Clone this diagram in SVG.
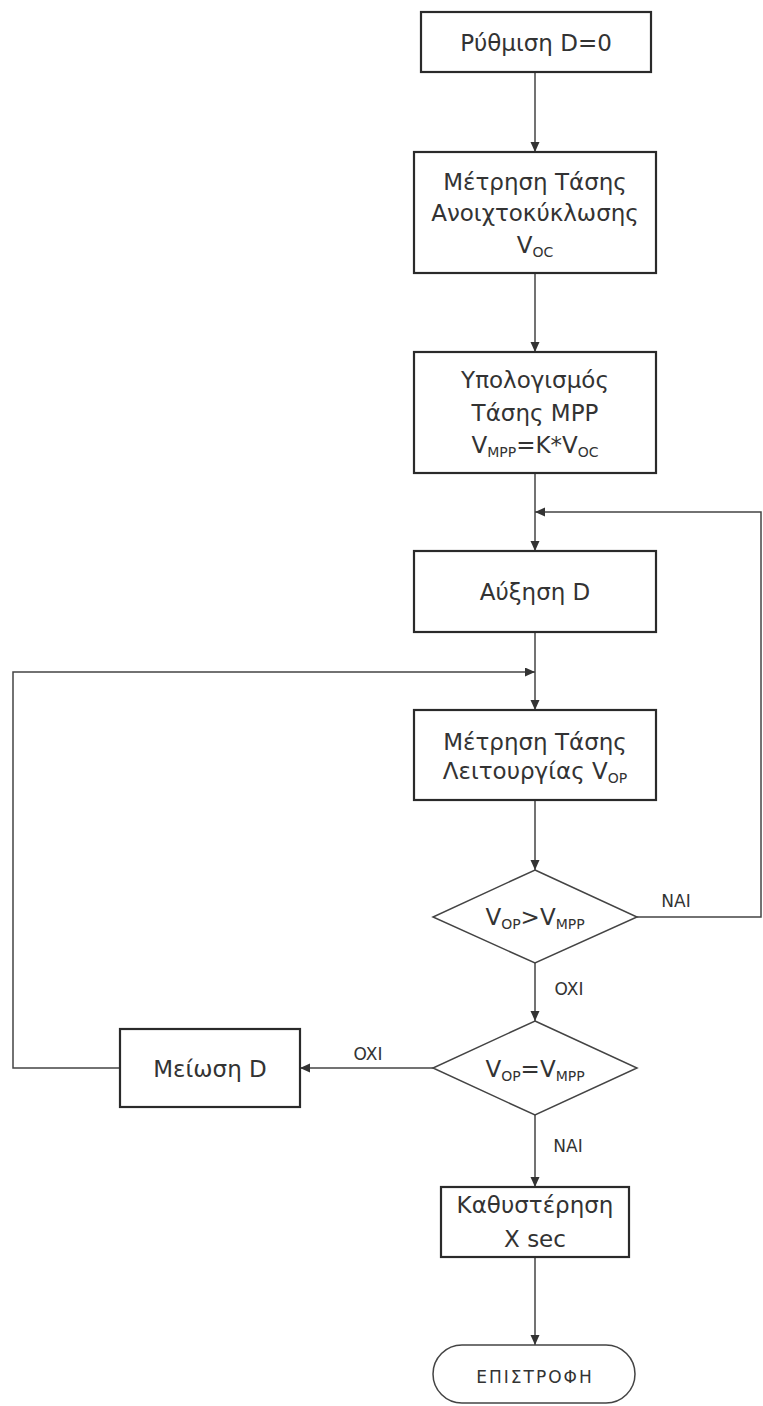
<svg xmlns="http://www.w3.org/2000/svg" width="763" height="1406" viewBox="0 0 763 1406">
<style>
.box{fill:#fff;stroke:#2a2a2a;stroke-width:2.2}
.dia{fill:#fff;stroke:#444;stroke-width:1.5}
.ln{fill:none;stroke:#444;stroke-width:1.5}
.t{font-family:"DejaVu Sans","Liberation Sans",sans-serif;font-size:23px;fill:#333;text-anchor:middle}
.s{font-size:14px}
.lb{font-family:"DejaVu Sans","Liberation Sans",sans-serif;font-size:17px;fill:#333;text-anchor:middle}
</style>
<defs>
<marker id="ah" markerUnits="userSpaceOnUse" markerWidth="10" markerHeight="10" refX="10" refY="4.5" orient="auto">
<path d="M0,0 L10,4.5 L0,9 z" fill="#333"/>
</marker>
</defs>
<g id="connectors">
<path class="ln" d="M535,72 V152" marker-end="url(#ah)"/>
<path class="ln" d="M535,273 V352" marker-end="url(#ah)"/>
<path class="ln" d="M535,473 V551" marker-end="url(#ah)"/>
<path class="ln" d="M637,917 H761 V512 H535" marker-end="url(#ah)"/>
<path class="ln" d="M535,632 V710" marker-end="url(#ah)"/>
<path class="ln" d="M120,1068 H13 V672 H535" marker-end="url(#ah)"/>
<path class="ln" d="M535,800 V870" marker-end="url(#ah)"/>
<path class="ln" d="M535,963 V1021" marker-end="url(#ah)"/>
<path class="ln" d="M433,1068 H300" marker-end="url(#ah)"/>
<path class="ln" d="M535,1115 V1187" marker-end="url(#ah)"/>
<path class="ln" d="M535,1257 V1345" marker-end="url(#ah)"/>
<text class="lb" x="676" y="907">NAI</text>
<text class="lb" x="569" y="995">OXI</text>
<text class="lb" x="368" y="1060">OXI</text>
<text class="lb" x="568" y="1152">NAI</text>
</g>
<g id="n1"><rect class="box" x="421" y="12" width="230" height="60"/><text class="t" x="536" y="51">Ρύθμιση D=0</text></g>
<g id="n2"><rect class="box" x="414" y="152" width="242" height="121"/>
<text class="t" x="535" y="190">Μέτρηση Τάσης</text>
<text class="t" x="535" y="221">Ανοιχτοκύκλωσης</text>
<text class="t" x="535" y="253">V<tspan class="s" dy="4">OC</tspan></text></g>
<g id="n3"><rect class="box" x="414" y="352" width="242" height="121"/>
<text class="t" x="535" y="388">Υπολογισμός</text>
<text class="t" x="535" y="421">Τάσης MPP</text>
<text class="t" x="535" y="453">V<tspan class="s" dy="4">MPP</tspan><tspan dy="-4">=K*V</tspan><tspan class="s" dy="4">OC</tspan></text></g>
<g id="n4"><rect class="box" x="414" y="551" width="242" height="81"/>
<text class="t" x="535" y="600">Αύξηση D</text></g>
<g id="n5"><rect class="box" x="414" y="710" width="242" height="90"/>
<text class="t" x="535" y="750">Μέτρηση Τάσης</text>
<text class="t" x="535" y="779">Λειτουργίας V<tspan class="s" dy="4">OP</tspan></text></g>
<g id="d1"><polygon class="dia" points="535,870 637,917 535,963 433,917"/>
<text class="t" x="535" y="925">V<tspan class="s" dy="4">OP</tspan><tspan dy="-4">&gt;V</tspan><tspan class="s" dy="4">MPP</tspan></text></g>
<g id="d2"><polygon class="dia" points="535,1021 637,1068 535,1115 433,1068"/>
<text class="t" x="535" y="1077">V<tspan class="s" dy="4">OP</tspan><tspan dy="-4">=V</tspan><tspan class="s" dy="4">MPP</tspan></text></g>
<g id="n6"><rect class="box" x="120" y="1029" width="180" height="78"/>
<text class="t" x="210" y="1077">Μείωση D</text></g>
<g id="n7"><rect class="box" x="441" y="1187" width="188" height="70"/>
<text class="t" x="535" y="1213">Καθυστέρηση</text>
<text class="t" x="535" y="1247">X sec</text></g>
<g id="n8"><rect class="dia" x="433" y="1345" width="202" height="58" rx="29" ry="29"/>
<text class="t" x="535" y="1383" style="font-size:17px;letter-spacing:2px">ΕΠΙΣΤΡΟΦΗ</text></g>
</svg>
